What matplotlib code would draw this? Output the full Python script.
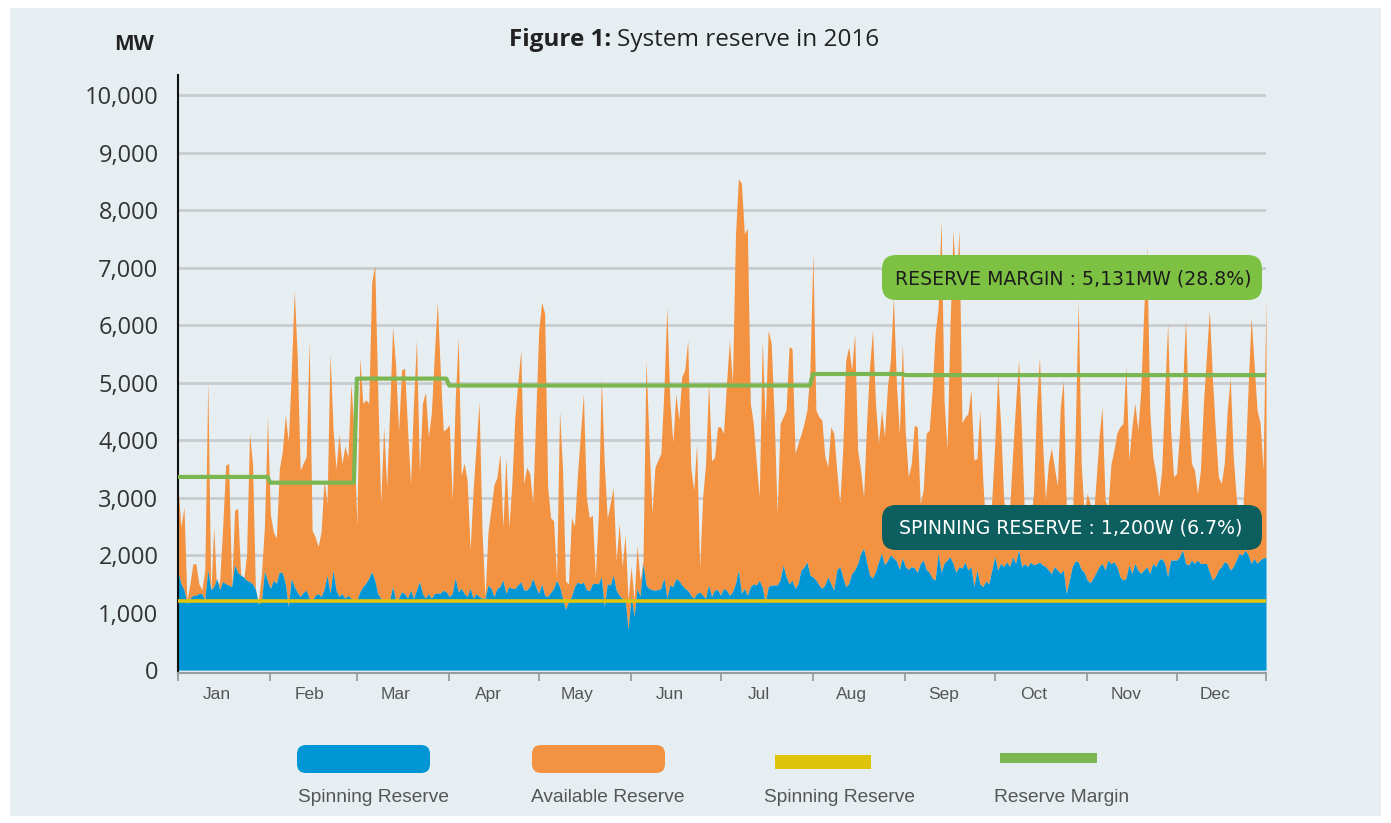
import numpy as np
import matplotlib
matplotlib.use('Agg')
import matplotlib.pyplot as plt
from matplotlib.patches import FancyBboxPatch, Rectangle

# ---------------- data ----------------
months = ['Jan', 'Feb', 'Mar', 'Apr', 'May', 'Jun', 'Jul', 'Aug', 'Sep', 'Oct', 'Nov', 'Dec']
month_days = [31, 29, 31, 30, 31, 30, 31, 31, 30, 31, 30, 31]

# Available reserve (top of orange area), MW, daily
avail_jan = [3190, 2490, 2840, 1220, 1500, 1850, 1850, 1500, 1400, 1740, 5040, 1330, 2490, 1330, 1565, 2500,
             3565, 3594, 1449, 2782, 2811, 1681, 1565, 2000, 4116, 3594, 1333, 1217, 1681, 2500, 4405]
avail_feb = [2700, 2400, 2300, 3500, 3800, 4440, 3970, 5160, 6610, 5450, 3480, 3600, 3710, 5740, 2430,
             2320, 2150, 2400, 3300, 2900, 5510, 4200, 3500, 4100, 3590, 3900, 3700, 4990, 4200]
avail_mar = [2500, 5440, 4640, 4700, 4640, 6750, 7040, 4870, 2900, 4230, 3190, 4500, 5970, 5300, 4160, 5220,
             5250, 4200, 3240, 4640, 5740, 3450, 4640, 4830, 4060, 4470, 5500, 6400, 5200, 4160, 4200]
avail_apr = [4270, 2950, 4700, 5790, 3390, 3600, 3300, 2090, 3130, 3900, 4660, 2410, 1270, 2410, 2800,
             3230, 3350, 3770, 2480, 3700, 2480, 3240, 4400, 5000, 5570, 3240, 3530, 3420, 2900, 4400]
avail_may = [5900, 6400, 6200, 3200, 2650, 2600, 1600, 4500, 3500, 1550, 1500, 2650, 2500, 3400, 4100, 4800,
             3000, 2650, 2700, 1600, 2700, 5080, 3590, 2640, 2900, 3170, 1910, 2550, 1800, 2350, 1220]
avail_jun = [1800, 1220, 2170, 1560, 1900, 5390, 4000, 2720, 3530, 3650, 3770, 4860, 6310, 4700, 3950,
             4810, 4350, 5100, 5220, 5740, 3530, 3130, 3940, 1760, 3000, 3590, 5010, 3640, 3700, 4230]
avail_jul = [4232, 4116, 4985, 5739, 4985, 7536, 8550, 8463, 7594, 7681, 4637, 4290, 3600, 3014, 5739, 4290,
             5913, 5681, 4406, 2725, 4290, 4406, 4521, 5623, 5594, 3768, 3942, 4100, 4290, 4521, 5217]
avail_aug = [7246, 4521, 4406, 4348, 3710, 3536, 4232, 4116, 3478, 2899, 3826, 5391, 5623, 5217, 5855, 3826,
             3478, 3014, 4290, 5275, 5913, 4637, 3942, 4521, 4058, 4928, 5391, 6492, 5000, 4100, 5680]
avail_sep = [4120, 3360, 3594, 4260, 4232, 2900, 3130, 4120, 4174, 4870, 5850, 6310, 7830, 4695, 3830,
             5970, 7650, 6660, 7650, 4300, 4400, 4460, 4870, 3650, 3680, 4520, 3300, 2400, 2300, 2960]
avail_oct = [3940, 5160, 4230, 2960, 2600, 2800, 3770, 4640, 5390, 4120, 2600, 2400, 2600, 3070, 4580, 5450,
             4000, 2960, 3600, 3860, 3530, 3200, 4580, 5040, 2800, 2400, 2600, 4120, 6430, 3590, 2720]
avail_nov = [3072, 2899, 2609, 3304, 4060, 4580, 2956, 2840, 3590, 3826, 4130, 4230, 4290, 5280, 3650,
             4230, 4640, 4174, 4869, 6260, 7360, 4500, 3710, 3420, 3014, 3478, 4800, 6030, 4174, 3360]
avail_dec = [3420, 4130, 4927, 6110, 4406, 3594, 3478, 3072, 3478, 4637, 5449, 6260, 5101, 4174, 3362, 3246,
             3594, 4521, 5100, 3710, 3014, 2500, 2551, 3594, 4927, 6140, 5333, 4521, 4300, 3478, 6490]

# Spinning reserve (top of blue area), MW, daily
spin_jan = [1700, 1500, 1400, 1160, 1250, 1300, 1300, 1333, 1330, 1220, 1740, 1400, 1450, 1590, 1400, 1540,
            1500, 1480, 1450, 1830, 1700, 1650, 1620, 1560, 1540, 1500, 1400, 1150, 1200, 1720, 1550]
spin_feb = [1420, 1560, 1510, 1710, 1690, 1500, 1100, 1590, 1450, 1350, 1280, 1350, 1390, 1250, 1220,
            1300, 1330, 1280, 1400, 1650, 1330, 1740, 1390, 1280, 1330, 1250, 1300, 1250, 1220]
spin_mar = [1220, 1360, 1450, 1510, 1600, 1710, 1560, 1330, 1250, 1190, 1200, 1220, 1450, 1220, 1250, 1360,
            1330, 1250, 1390, 1250, 1390, 1540, 1330, 1250, 1330, 1250, 1330, 1340, 1340, 1390, 1360]
spin_apr = [1280, 1330, 1600, 1360, 1420, 1330, 1280, 1420, 1250, 1330, 1280, 1250, 1250, 1480, 1420,
            1275, 1420, 1450, 1565, 1330, 1450, 1420, 1420, 1480, 1536, 1391, 1391, 1449, 1594, 1449]
spin_may = [1330, 1500, 1300, 1280, 1350, 1420, 1560, 1450, 1250, 1050, 1200, 1280, 1450, 1530, 1500, 1530,
            1400, 1380, 1500, 1510, 1500, 1620, 1100, 1500, 1480, 1650, 1390, 1300, 1250, 1220, 700]
spin_jun = [1300, 930, 1420, 1280, 1850, 1480, 1420, 1400, 1390, 1400, 1420, 1600, 1250, 1480, 1450,
            1590, 1560, 1480, 1420, 1390, 1300, 1250, 1330, 1360, 1300, 1250, 1480, 1280, 1390, 1400]
spin_jul = [1300, 1420, 1390, 1300, 1360, 1500, 1740, 1330, 1420, 1300, 1450, 1500, 1480, 1560, 1440, 1160,
            1450, 1480, 1480, 1480, 1565, 1826, 1620, 1500, 1565, 1420, 1500, 1740, 1790, 1880, 1650]
spin_aug = [1620, 1565, 1480, 1420, 1480, 1620, 1500, 1390, 1740, 1800, 1620, 1450, 1500, 1680, 1740, 1850,
            2030, 2116, 1880, 1650, 1600, 1710, 1880, 2030, 1830, 1900, 2000, 1950, 1900, 1750, 1950]
spin_sep = [1800, 1750, 1800, 1780, 1700, 1850, 1913, 1750, 1700, 1600, 1565, 2029, 1700, 1855, 1913,
            1970, 1850, 1700, 1800, 1770, 1880, 1740, 1800, 1450, 1740, 1500, 1450, 1550, 1500, 1740]
spin_oct = [1970, 1740, 1855, 1800, 1880, 1800, 1970, 1855, 2090, 1800, 1850, 1800, 1880, 1830, 1850, 1880,
            1830, 1800, 1740, 1680, 1800, 1740, 1680, 1740, 1330, 1560, 1800, 1900, 1880, 1750, 1700]
spin_nov = [1565, 1520, 1600, 1700, 1800, 1855, 1739, 1913, 1850, 1884, 1797, 1623, 1565, 1594, 1826,
            1681, 1855, 1739, 1681, 1739, 1797, 1681, 1855, 1797, 1913, 1942, 1855, 1623, 1913, 1913]
spin_dec = [1913, 1971, 2087, 1855, 1826, 1913, 1855, 1913, 1855, 1855, 1855, 1710, 1565, 1623, 1739, 1797,
            1884, 1855, 1739, 1797, 1913, 2029, 2000, 2087, 2000, 1855, 1942, 1855, 1913, 1950, 1960]

margin_by_month = [3360, 3260, 5070, 4950, 4950, 4950, 4950, 5150, 5131, 5131, 5131, 5131]
spinning_requirement = 1200
y_ticks = [0, 1000, 2000, 3000, 4000, 5000, 6000, 7000, 8000, 9000, 10000]

title_bold = 'Figure 1:'
title_rest = 'System reserve in 2016'
y_unit = 'MW'
margin_label = 'RESERVE MARGIN : 5,131MW (28.8%)'
spin_label = 'SPINNING RESERVE : 1,200W (6.7%)'
legend_labels = ['Spinning Reserve', 'Available Reserve', 'Spinning Reserve', 'Reserve Margin']

# ---------------- build series ----------------
available = np.concatenate([avail_jan, avail_feb, avail_mar, avail_apr, avail_may, avail_jun,
                            avail_jul, avail_aug, avail_sep, avail_oct, avail_nov, avail_dec]).astype(float)
spinning = np.concatenate([spin_jan, spin_feb, spin_mar, spin_apr, spin_may, spin_jun,
                           spin_jul, spin_aug, spin_sep, spin_oct, spin_nov, spin_dec]).astype(float)
days = np.arange(len(available))
margin = np.repeat(margin_by_month, month_days).astype(float)
bounds = np.concatenate([[0], np.cumsum(month_days)])
last_day = days[-1]

# ---------------- colours ----------------
BG = '#e6eef2'
BLUE = '#0096d6'
ORANGE = '#f39241'
YELLOW = '#dfc40c'
GREEN = '#7cb651'
GRID = '#c8cccf'
TEAL = '#0d5f5f'
LABEL_GREEN = '#7dc142'

W, H = 1391, 823
fig = plt.figure(figsize=(W / 100, H / 100), dpi=100)
fig.patch.set_facecolor('white')


def fx(x):
    return x / W


def fy(y):
    return 1 - y / H


fig.add_artist(Rectangle((fx(10), fy(816)), fx(1381) - fx(10), fy(8) - fy(816),
                         transform=fig.transFigure, facecolor=BG, edgecolor='none', zorder=-10))

ax = fig.add_axes([fx(178), fy(673), fx(1266) - fx(178), fy(75) - fy(673)])
ax.set_facecolor('none')
ax.set_xlim(0, last_day)
ax.set_ylim(-50, 10350)

# grid
for v in y_ticks[1:]:
    ax.axhline(v, color=GRID, lw=2.0, zorder=0.5)

ax.fill_between(days, spinning, available, color=ORANGE, lw=0, zorder=1)
ax.fill_between(days, 0, spinning, color=BLUE, lw=0, zorder=2)
ax.plot([0, last_day], [spinning_requirement, spinning_requirement], color=YELLOW, lw=2.6, zorder=3,
        solid_capstyle='butt')
ax.plot(days, margin, color=GREEN, lw=3.0, zorder=4, solid_capstyle='butt')

for s in ['top', 'right']:
    ax.spines[s].set_visible(False)
ax.spines['left'].set_color('#111111')
ax.spines['left'].set_linewidth(1.5)
ax.spines['bottom'].set_color('#9a9da0')
ax.spines['bottom'].set_linewidth(1.5)

ax.set_yticks(y_ticks)
ax.set_yticklabels([f'{v:,}' for v in y_ticks], fontfamily='Open Sans', fontsize=17, color='#333333')
ax.tick_params(axis='y', length=0, pad=14)

tick_pos = np.minimum(bounds, last_day)
ax.set_xticks(tick_pos)
ax.set_xticklabels([])
ax.tick_params(axis='x', which='major', length=6, width=1.3, color='#9a9da0', direction='out')
label_pos = bounds[:-1] + 13
ax.set_xticks(label_pos, minor=True)
ax.set_xticklabels(months, minor=True, fontfamily='Liberation Sans', fontsize=12.5, color='#555555')
ax.tick_params(axis='x', which='minor', length=0, pad=10)

# title and unit
fig.text(fx(611), fy(40), title_bold, fontfamily='Open Sans', fontweight='bold', fontsize=17.5,
         color='#222222', ha='right', va='center')
fig.text(fx(617), fy(40), title_rest, fontfamily='Open Sans', fontsize=17.5, color='#222222',
         ha='left', va='center')
fig.text(fx(134), fy(44), y_unit, fontfamily='Open Sans', fontweight='bold', fontsize=15,
         color='#222222', ha='center', va='center')

aspect = W / H


def rbox(x0, y0, x1, y1, color, r):
    p = FancyBboxPatch((fx(x0), fy(y1)), fx(x1) - fx(x0), fy(y0) - fy(y1),
                       boxstyle=f'round,pad=0,rounding_size={r / W}', mutation_aspect=aspect,
                       transform=fig.transFigure, facecolor=color, edgecolor='none', zorder=5)
    fig.add_artist(p)


# annotation labels
rbox(882, 255, 1262, 300, LABEL_GREEN, 14)
fig.text(fx(1073), fy(279), margin_label, fontfamily='DejaVu Sans', fontsize=13.6, color='#1c1c1c',
         ha='center', va='center', zorder=6)
rbox(882, 505, 1262, 550, TEAL, 14)
fig.text(fx(1071), fy(528), spin_label, fontfamily='DejaVu Sans', fontsize=13.6, color='white',
         ha='center', va='center', zorder=6)

# legend
rbox(297, 745, 430, 773, BLUE, 9)
rbox(532, 745, 665, 773, ORANGE, 9)
fig.add_artist(Rectangle((fx(775), fy(769)), fx(871) - fx(775), fy(755) - fy(769),
                         transform=fig.transFigure, facecolor=YELLOW, edgecolor='none'))
fig.add_artist(Rectangle((fx(1000), fy(763)), fx(1097) - fx(1000), fy(753) - fy(763),
                         transform=fig.transFigure, facecolor=GREEN, edgecolor='none'))
for cx, lab in zip([374, 608, 840, 1062], legend_labels):
    fig.text(fx(cx), fy(797), lab, fontfamily='Liberation Sans', fontsize=13.8, color='#555555',
             ha='center', va='center')

fig.savefig('out.png', dpi=100, facecolor=fig.get_facecolor())
